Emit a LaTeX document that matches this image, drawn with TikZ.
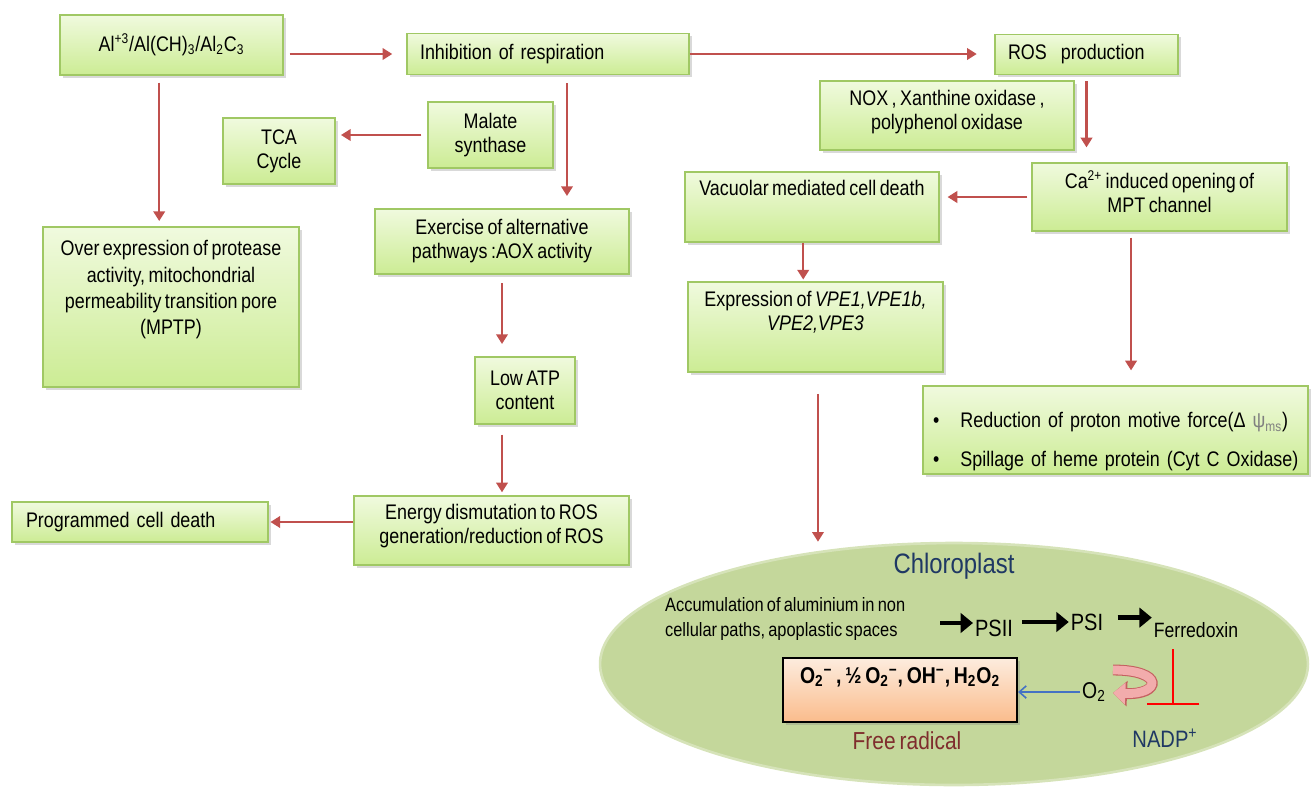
\documentclass[tikz,border=0pt]{standalone}
\usepackage{fontspec}
\setmainfont{Liberation Sans}[FakeStretch=0.85, WordSpace=0.7]
\usetikzlibrary{arrows.meta, shapes.geometric, shadows}

\definecolor{flowred}{RGB}{192,80,77}
\definecolor{boxtop}{RGB}{240,250,222}
\definecolor{boxbot}{RGB}{204,236,148}
\definecolor{boxline}{RGB}{160,200,100}
\definecolor{chlorogreen}{RGB}{196,215,155}
\definecolor{titleblue}{RGB}{31,56,100}
\definecolor{radtop}{RGB}{253,236,222}
\definecolor{radbot}{RGB}{250,188,140}
\definecolor{radred}{RGB}{127,45,45}
\definecolor{o2blue}{RGB}{68,114,196}
\definecolor{uturn}{RGB}{242,172,172}
\definecolor{uturnline}{RGB}{196,96,96}

\newcommand{\boxfont}{\fontsize{12}{13.7}\selectfont}

\begin{document}
\begin{tikzpicture}[x=0.02cm, y=-0.02cm,
    box/.style={draw=boxline, line width=0.8pt, top color=boxtop, bottom color=boxbot,
        align=center, inner ysep=2pt, font=\boxfont,
        drop shadow={shadow xshift=1.5pt, shadow yshift=-1.5pt, opacity=0.3}},
    arr/.style={flowred, line width=1.3pt, -{Triangle[length=5.5pt,width=6.5pt]}},
    blkarr/.style={black, line width=2.6pt, -{Triangle[length=7pt,width=11pt]}},
    inhibit/.style={red, line width=1.3pt, -{Bar[width=30pt]}},
    o2arr/.style={o2blue, line width=0.9pt, -{Straight Barb[length=4pt,width=7pt]}},
    uturnarr/.style={uturn, line width=5pt, -{Triangle[length=7pt,width=12pt]},
        preaction={draw=uturnline, line width=6.2pt, -{Triangle[length=8pt,width=14pt]}}},
    lbl/.style={inner sep=1pt}]
    \useasboundingbox (0,0) rectangle (1312,788);

    % ==========================================
    % Mitochondrial side: boxes
    % ==========================================
    \node[box, minimum width=4.46cm, minimum height=1.2cm] (al) at (171.5,45)
        {Al\textsuperscript{+3}/Al(CH)\textsubscript{3}/Al\textsubscript{2}C\textsubscript{3}};
    \node[box, minimum width=5.64cm, minimum height=0.82cm, align=left,
        inner xsep=0.26cm, text width=5.12cm] (inhib) at (548,54) {Inhibition of respiration};
    \node[box, minimum width=3.66cm, minimum height=0.8cm, align=left,
        inner xsep=0.26cm, text width=3.14cm] (ros) at (1086.5,54.5) {ROS\ \ production};
    \node[box, minimum width=5.08cm, minimum height=1.38cm, text depth=6pt] (nox) at (947,115.5)
        {NOX , Xanthine oxidase ,\\polyphenol oxidase};
    \node[box, minimum width=5.10cm, minimum height=1.36cm, text depth=6pt] (ca) at (1159.5,197)
        {Ca\textsuperscript{2+} induced opening of\\MPT channel};
    \node[box, minimum width=2.5cm, minimum height=1.32cm] (malate) at (490.5,135) {Malate\\synthase};
    \node[box, minimum width=2.24cm, minimum height=1.32cm] (tca) at (279,151) {TCA\\Cycle};
    \node[box, minimum width=5.08cm, minimum height=1.3cm] (exer) at (502,241.5)
        {Exercise of alternative\\pathways :AOX activity};
    \node[box, minimum width=5.12cm, minimum height=3.2cm, font=\fontsize{12}{15}\selectfont,
        text depth=22pt] (over) at (171,307)
        {Over expression of protease\\activity, mitochondrial\\permeability transition pore\\(MPTP)};
    \node[box, minimum width=2.0cm, minimum height=1.34cm] (atp) at (525,390.5) {Low ATP\\content};
    \node[box, minimum width=5.5cm, minimum height=1.38cm, text depth=8pt] (energy) at (491.5,530.5)
        {Energy dismutation to ROS\\generation/reduction of ROS};
    \node[box, minimum width=5.12cm, minimum height=0.8cm, align=left,
        inner xsep=0.28cm, text width=4.56cm] (prog) at (140,522) {Programmed cell death};

    % ==========================================
    % Vacuolar side: boxes
    % ==========================================
    \node[box, minimum width=5.08cm, minimum height=1.4cm, text depth=21.5pt] (vac) at (812,207)
        {Vacuolar mediated cell death};
    \node[box, minimum width=5.1cm, minimum height=1.8cm, text depth=18pt] (expr) at (815.5,327)
        {Expression of \textit{VPE1,VPE1b,}\\\textit{VPE2,VPE3}};
    \node[box, minimum width=7.7cm, minimum height=1.76cm, align=left, inner xsep=0.15cm,
        text width=7.4cm, text depth=11pt] (red) at (1115.5,430)
        {\makebox[17pt][l]{\hspace{1.5pt}\textbullet}Reduction of proton motive force(Δ {\color{gray}ψ\textsubscript{ms}})\\[8pt]
         \makebox[17pt][l]{\hspace{1.5pt}\textbullet}Spillage of heme protein (Cyt C Oxidase)};

    % ==========================================
    % Chloroplast
    % ==========================================
    \node[ellipse, fill=chlorogreen, draw=chlorogreen!70!white, line width=1.5pt,
        minimum width=14.16cm, minimum height=4.84cm] (chloro) at (954,664) {};
    \node[lbl, font=\fontsize{16}{18}\selectfont, text=titleblue] (ctitle) at (954,566) {Chloroplast};
    \node[lbl, font=\fontsize{11}{14}\selectfont, align=left, anchor=west] (acc) at (663,619)
        {Accumulation of aluminium in non\\cellular paths, apoplastic spaces};
    \node[lbl, font=\fontsize{13.4}{15}\selectfont] (psii) at (994,628) {PSII};
    \node[lbl, font=\fontsize{13.4}{15}\selectfont] (psi) at (1087,622) {PSI};
    \node[lbl, font=\fontsize{11.8}{14}\selectfont] (ferr) at (1196,630) {Ferredoxin};
    \node[lbl, font=\fontsize{13.5}{15}\selectfont, text=titleblue] (nadp) at (1165,738) {NADP\textsuperscript{+}};
    \node[lbl, font=\fontsize{13}{15}\selectfont] (o2) at (1094,692) {O\textsubscript{2}};
    \node[draw=black, line width=1.2pt, top color=radtop, bottom color=radbot,
        minimum width=4.68cm, minimum height=1.28cm, text depth=17pt,
        font=\fontsize{13}{15}\selectfont\bfseries,
        drop shadow={shadow xshift=1.5pt, shadow yshift=-1.5pt, opacity=0.3}] (rad) at (900,690)
        {O\textsubscript{2}\textsuperscript{−} , ½ O\textsubscript{2}\textsuperscript{−}, OH\textsuperscript{−}, H\textsubscript{2}O\textsubscript{2}};
    \node[lbl, font=\fontsize{14}{16}\selectfont, text=radred] (frad) at (907,741) {Free radical};

    \coordinate (s1) at (940,623);
    \coordinate (tfoot) at (1173,705);
    \coordinate (ustart) at (1113,670);
    \coordinate (uend) at (1113,693);

    % ==========================================
    % Connectors
    % ==========================================
    \draw[arr, shorten <=3.4pt, shorten >=8pt] (al.east |- inhib.west) -- (inhib.west);
    \draw[arr, shorten >=10pt] (inhib.east) -- (inhib.east -| ros.west);
    \draw[arr, shorten <=4pt, shorten >=3pt] ([xshift=-7pt]al.south) -- ([xshift=-7pt]al.south |- over.north);
    \draw[arr, shorten <=3.4pt, shorten >=3pt] (malate.west) -- (malate.west -| tca.east);
    \draw[arr, shorten <=4.5pt, shorten >=7pt] ([xshift=10.8pt]inhib.south) -- ([xshift=10.8pt]inhib.south |- exer.north);
    \draw[arr, shorten <=5pt, shorten >=7pt] (exer.south) -- (exer.south |- atp.north);
    \draw[arr, shorten <=5.7pt, shorten >=1.7pt] (exer.south |- atp.south) -- (exer.south |- energy.north);
    \draw[arr, shorten >=1pt] (energy.west |- prog.east) -- (prog.east);

    \draw[arr, shorten <=3.4pt, shorten >=8.5pt] (ros.south) -- (ros.south |- ca.north);
    \draw[arr, shorten <=2.3pt, shorten >=4.5pt] (ca.west) -- (ca.west -| vac.east);
    \draw[arr, shorten >=1pt] ([xshift=-5pt]vac.south) -- ([xshift=-5pt]vac.south |- expr.north);
    \draw[arr, shorten <=3.4pt, shorten >=8.5pt] ([xshift=-16.2pt]ca.south) -- ([xshift=-16.2pt]ca.south |- red.north);
    \draw[arr, shorten <=12pt] ([xshift=1.4pt]expr.south) -- ([xshift=1.4pt]expr.south |- chloro.north);

    % electron chain inside the chloroplast
    \draw[blkarr] (s1) -- (psii.west |- s1);
    \draw[blkarr, shorten <=4pt] (psii.east |- psi.west) -- (psi.west);
    \draw[blkarr, shorten <=7pt] ([yshift=2.5pt]psi.east) -- ([yshift=2.5pt]psi.east -| ferr.west);
    \draw[inhibit, shorten <=5.5pt] (ferr.south -| tfoot) -- (tfoot);
    \draw[uturnarr] (ustart) .. controls +(52,0) and +(48,2) .. (uend);
    \draw[o2arr] (o2.west) -- (o2.west -| rad.east);
\end{tikzpicture}
\end{document}
